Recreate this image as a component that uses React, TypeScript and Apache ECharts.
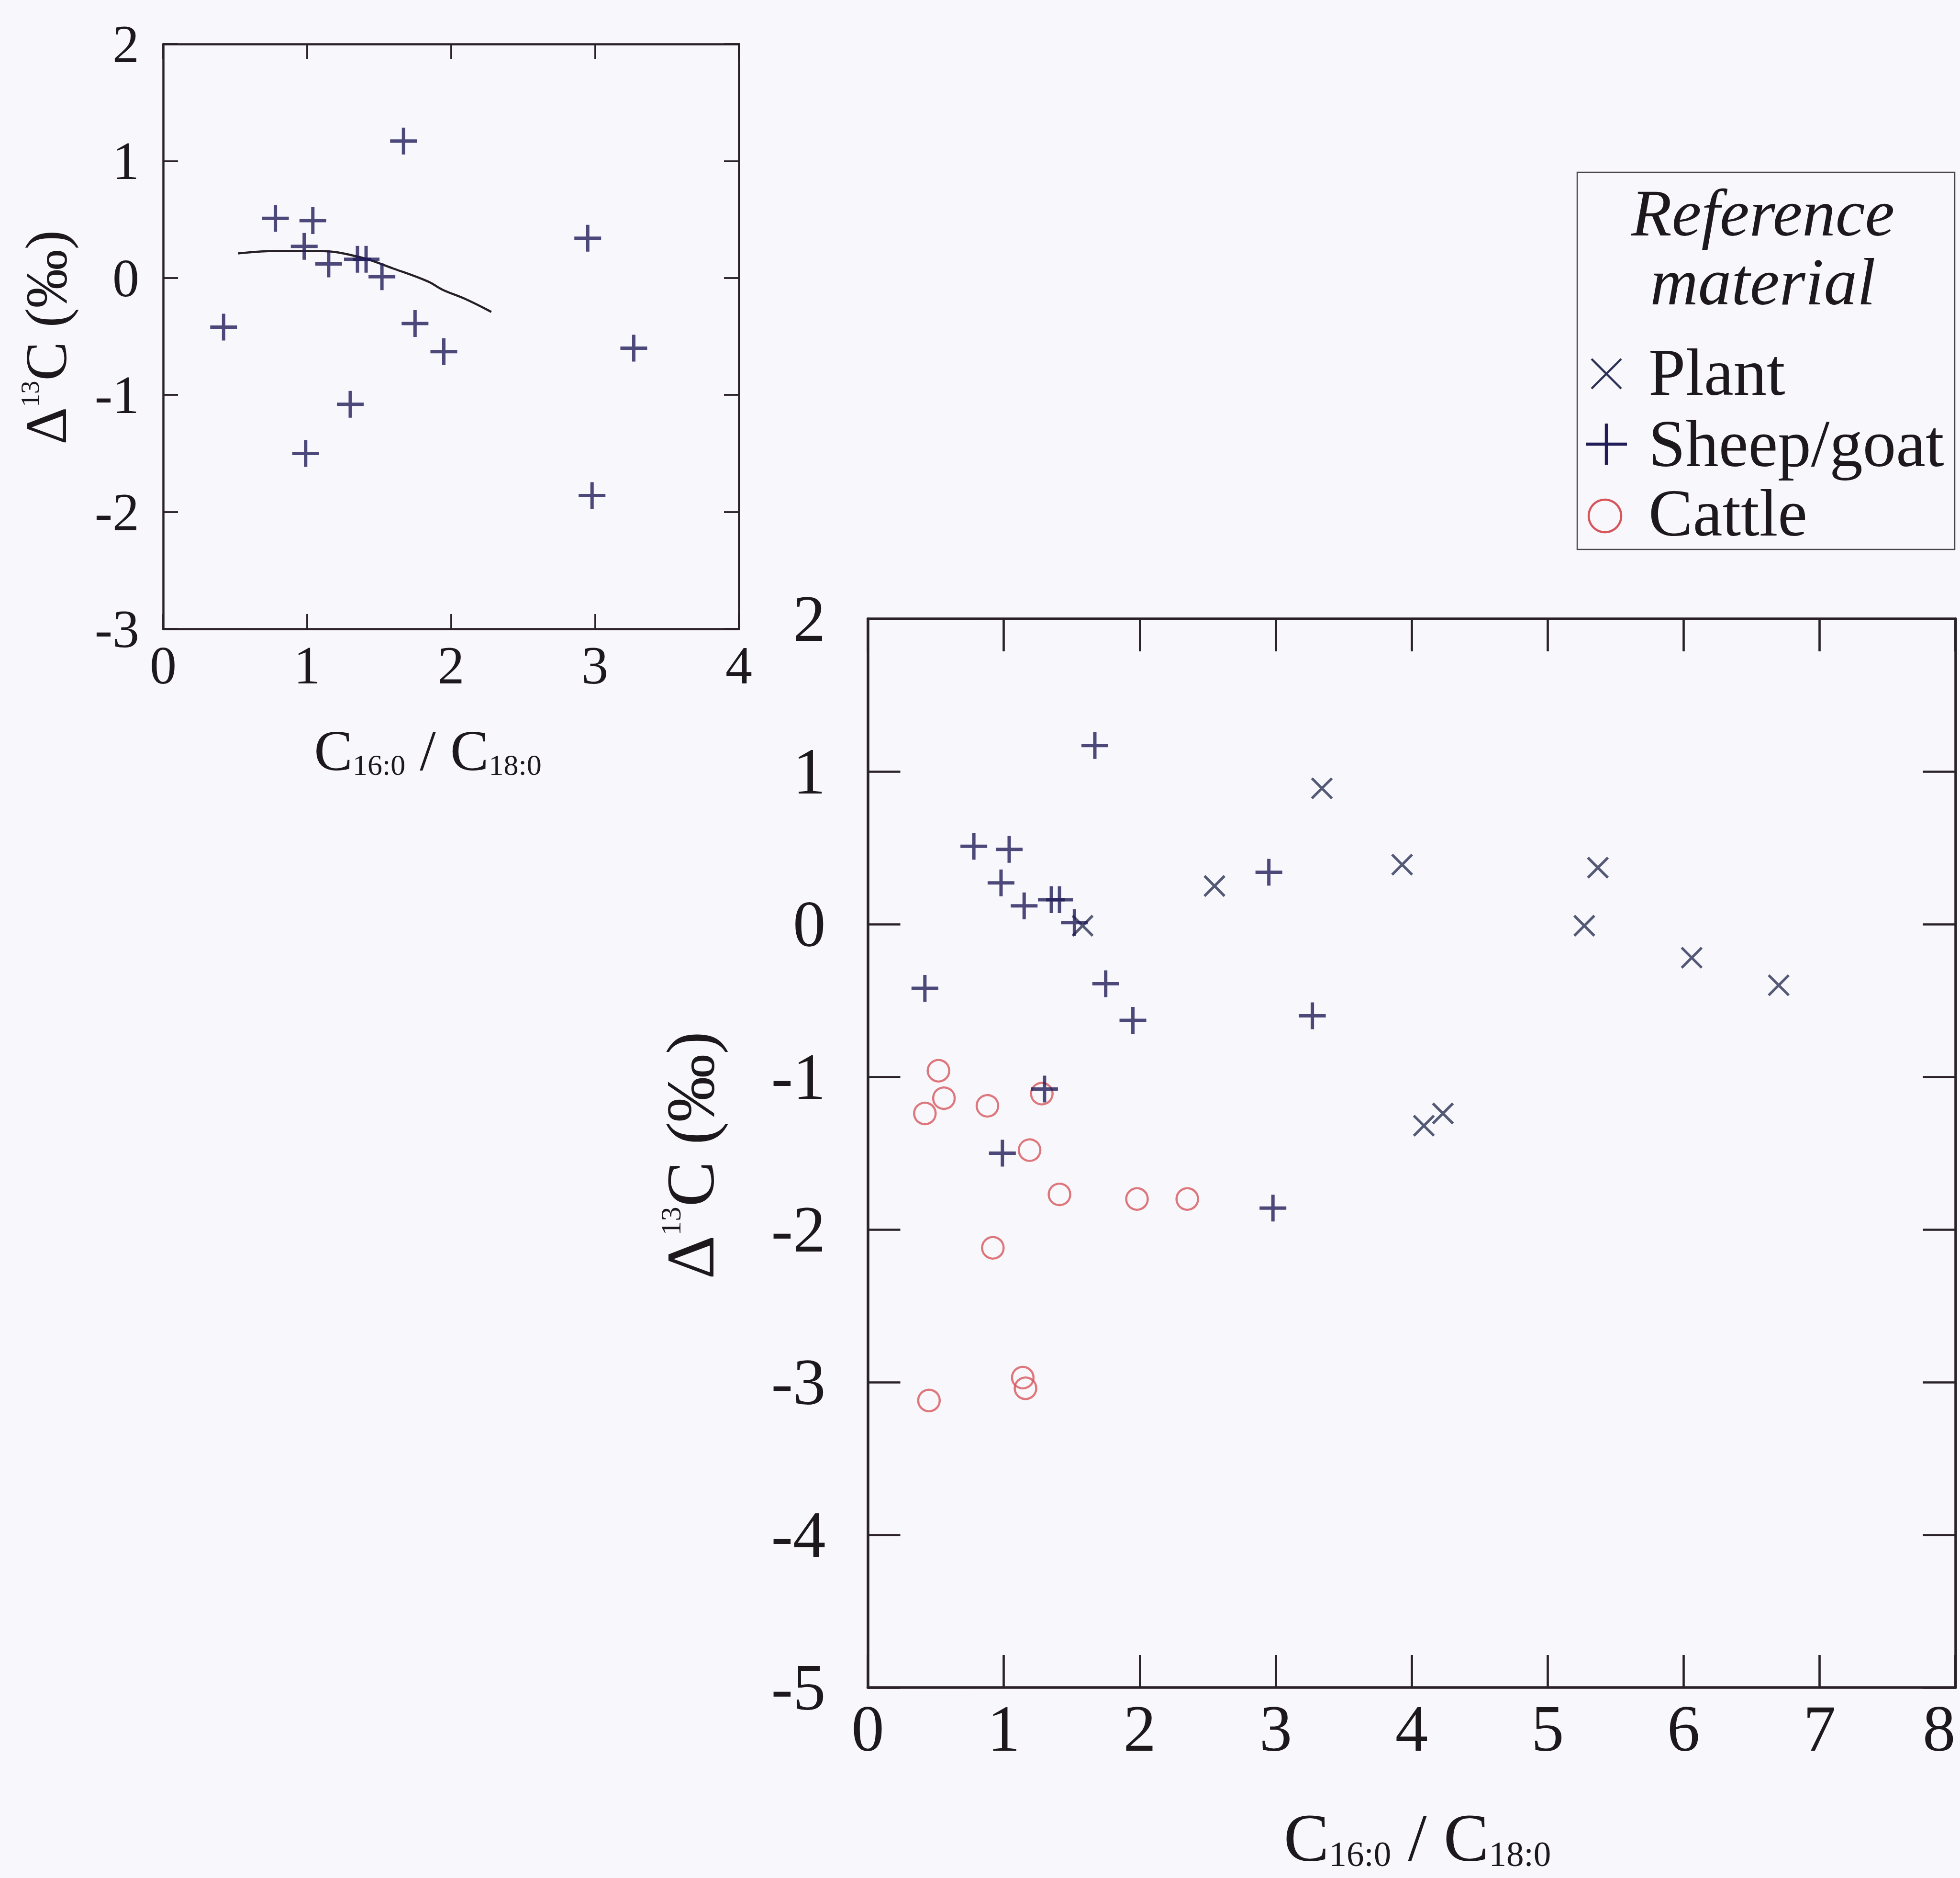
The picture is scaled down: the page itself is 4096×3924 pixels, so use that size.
import React, { useEffect, useRef } from "react";
import * as echarts from "echarts";

// ---------- data ----------
const sheepGoat: [number, number][] = [
  [1.67, 1.17],
  [0.78, 0.51],
  [1.04, 0.49],
  [0.98, 0.27],
  [1.15, 0.12],
  [1.35, 0.16],
  [1.41, 0.16],
  [1.52, 0.01],
  [1.75, -0.39],
  [1.95, -0.63],
  [0.42, -0.42],
  [1.3, -1.08],
  [0.99, -1.5],
  [2.95, 0.34],
  [3.27, -0.6],
  [2.98, -1.86],
];

const plant: [number, number][] = [
  [1.58, -0.01],
  [2.55, 0.25],
  [3.34, 0.89],
  [3.93, 0.39],
  [4.09, -1.32],
  [4.23, -1.24],
  [5.27, -0.01],
  [5.37, 0.37],
  [6.06, -0.22],
  [6.7, -0.4],
];

const cattle: [number, number][] = [
  [0.52, -0.96],
  [0.56, -1.14],
  [0.42, -1.24],
  [0.88, -1.19],
  [1.28, -1.11],
  [1.19, -1.48],
  [1.41, -1.77],
  [1.98, -1.8],
  [2.35, -1.8],
  [0.92, -2.12],
  [1.14, -2.97],
  [1.16, -3.04],
  [0.45, -3.12],
];

const mixingCurve: [number, number][] = [
  [0.52, 0.21],
  [0.78, 0.23],
  [1.08, 0.23],
  [1.36, 0.18],
  [1.6, 0.08],
  [1.84, -0.03],
  [1.94, -0.1],
  [2.1, -0.18],
  [2.28, -0.29],
];

const insetXRange = [0, 4];
const insetYRange = [-3, 2];
const mainXRange = [0, 8];
const mainYRange = [-5, 2];

const legendTitle = ["Reference", "material"];
const legendItems = ["Plant", "Sheep/goat", "Cattle"];

// ---------- styles ----------
const FONT = '"Liberation Serif", "Times New Roman", "DejaVu Serif", serif';
const AXIS_COLOR = "#2a2228";
const TEXT_COLOR = "#1d181c";
const SHEEP_COLOR = "#211c58";
const PLANT_COLOR = "#2b3154";
const CATTLE_COLOR = "#d6565b";
const CURVE_COLOR = "#262026";

const PLUS = "path://M5,0L5,10M0,5L10,5";
const CROSS = "path://M0,0L10,10M0,10L10,0";

function makeAxis(
  grid: number,
  position: string,
  range: number[],
  showLabel: boolean,
  tickLen: number,
  lineW: number,
  fontSize: number,
  margin: number,
  extraLabel: any = {}
) {
  return {
    type: "value",
    gridIndex: grid,
    position,
    min: range[0],
    max: range[1],
    interval: 1,
    axisLine: { show: true, onZero: false, lineStyle: { color: AXIS_COLOR, width: lineW } },
    axisTick: { show: true, inside: true, length: tickLen, lineStyle: { color: AXIS_COLOR, width: lineW * 0.85 } },
    axisLabel: {
      show: showLabel,
      margin,
      fontSize,
      fontFamily: FONT,
      color: TEXT_COLOR,
      ...extraLabel,
    },
    splitLine: { show: false },
  };
}

function xTitle(x: number, y: number, F: number, f: number, subH: number, gap: number) {
  return {
    type: "text",
    x,
    y,
    style: {
      text: "{m|C}{s|16:0}{g|/}{m|C}{s|18:0}",
      align: "center",
      verticalAlign: "middle",
      fill: TEXT_COLOR,
      rich: {
        m: { fontSize: F, fontFamily: FONT, lineHeight: F, fill: TEXT_COLOR },
        s: { fontSize: f, fontFamily: FONT, lineHeight: subH, verticalAlign: "bottom", fill: TEXT_COLOR },
        g: { fontSize: F, fontFamily: FONT, lineHeight: F, fill: TEXT_COLOR, padding: [0, gap, 0, gap] },
      },
    },
  };
}

function yTitle(x: number, y: number, F: number, f: number, supH: number, gap: number) {
  return {
    type: "text",
    x,
    y,
    rotation: Math.PI / 2,
    style: {
      text: "{m|\u0394}{p|13}{m|C}{g|(\u2030)}",
      align: "center",
      verticalAlign: "middle",
      fill: TEXT_COLOR,
      rich: {
        m: { fontSize: F, fontFamily: FONT, lineHeight: F, fill: TEXT_COLOR },
        p: { fontSize: f, fontFamily: FONT, lineHeight: supH, verticalAlign: "top", fill: TEXT_COLOR },
        g: { fontSize: F, fontFamily: FONT, lineHeight: F, fill: TEXT_COLOR, padding: [0, 0, 0, gap] },
      },
    },
  };
}

export default function App() {
  const ref = useRef<HTMLDivElement>(null);

  useEffect(() => {
    if (!ref.current) return;
    const chart = echarts.init(ref.current, null, { renderer: "svg" });

    const LEG_F = 139;
    const legendGraphic: any[] = [
      {
        type: "rect",
        shape: { x: 3296, y: 360, width: 789, height: 788 },
        style: { fill: "none", stroke: "#4a4548", lineWidth: 2.5 },
      },
      {
        type: "text",
        x: 3684,
        y: 445,
        style: { text: legendTitle[0], font: `italic ${LEG_F}px ${FONT}`, fill: TEXT_COLOR, align: "center", verticalAlign: "middle" },
      },
      {
        type: "text",
        x: 3684,
        y: 589,
        style: { text: legendTitle[1], font: `italic ${LEG_F}px ${FONT}`, fill: TEXT_COLOR, align: "center", verticalAlign: "middle" },
      },
      {
        type: "text",
        x: 3445,
        y: 778,
        style: { text: legendItems[0], font: `${LEG_F}px ${FONT}`, fill: TEXT_COLOR, align: "left", verticalAlign: "middle" },
      },
      {
        type: "text",
        x: 3445,
        y: 927,
        style: { text: legendItems[1], font: `${LEG_F}px ${FONT}`, fill: TEXT_COLOR, align: "left", verticalAlign: "middle" },
      },
      {
        type: "text",
        x: 3445,
        y: 1072,
        style: { text: legendItems[2], font: `${LEG_F}px ${FONT}`, fill: TEXT_COLOR, align: "left", verticalAlign: "middle" },
      },
      // legend markers
      { type: "line", shape: { x1: 3326, y1: 750, x2: 3388, y2: 812 }, style: { stroke: PLANT_COLOR, lineWidth: 4.5 } },
      { type: "line", shape: { x1: 3326, y1: 812, x2: 3388, y2: 750 }, style: { stroke: PLANT_COLOR, lineWidth: 4.5 } },
      { type: "line", shape: { x1: 3314, y1: 928, x2: 3400, y2: 928 }, style: { stroke: SHEEP_COLOR, lineWidth: 6.5 } },
      { type: "line", shape: { x1: 3357, y1: 885, x2: 3357, y2: 971 }, style: { stroke: SHEEP_COLOR, lineWidth: 6.5 } },
      { type: "circle", shape: { cx: 3354, cy: 1078, r: 34 }, style: { fill: "none", stroke: CATTLE_COLOR, lineWidth: 4.5 } },
    ];

    const option: any = {
      animation: false,
      backgroundColor: "#f8f7fc",
      textStyle: { fontFamily: FONT },
      grid: [
        { left: 341, top: 92, width: 1203, height: 1222, containLabel: false },
        { left: 1813.5, top: 1293, width: 2273, height: 2233, containLabel: false },
      ],
      xAxis: [
        makeAxis(0, "bottom", insetXRange, true, 31, 4.5, 112, 20),
        makeAxis(0, "top", insetXRange, false, 31, 4.5, 112, 20),
        makeAxis(1, "bottom", mainXRange, true, 68, 5.5, 137, 17, { alignMaxLabel: "right" }),
        makeAxis(1, "top", mainXRange, false, 68, 5.5, 137, 17),
      ],
      yAxis: [
        makeAxis(0, "left", insetYRange, true, 31, 4.5, 112, 50),
        makeAxis(0, "right", insetYRange, false, 31, 4.5, 112, 50),
        makeAxis(1, "left", mainYRange, true, 68, 5.5, 137, 88),
        makeAxis(1, "right", mainYRange, false, 68, 5.5, 137, 88),
      ],
      series: [
        {
          type: "line",
          name: "Curve",
          xAxisIndex: 0,
          yAxisIndex: 0,
          data: mixingCurve,
          smooth: 0.4,
          showSymbol: false,
          symbol: "none",
          lineStyle: { color: CURVE_COLOR, width: 4.5 },
          z: 2,
        },
        {
          type: "scatter",
          name: "Sheep/goat (inset)",
          xAxisIndex: 0,
          yAxisIndex: 0,
          data: sheepGoat,
          symbol: PLUS,
          symbolSize: 56,
          itemStyle: { color: "transparent", borderColor: SHEEP_COLOR, borderWidth: 7 },
          z: 3,
        },
        {
          type: "scatter",
          name: "Cattle",
          xAxisIndex: 2,
          yAxisIndex: 2,
          data: cattle,
          symbol: "circle",
          symbolSize: 45,
          itemStyle: { color: "transparent", borderColor: CATTLE_COLOR, borderWidth: 4.5 },
          z: 2,
        },
        {
          type: "scatter",
          name: "Plant",
          xAxisIndex: 2,
          yAxisIndex: 2,
          data: plant,
          symbol: CROSS,
          symbolSize: 42,
          itemStyle: { color: "transparent", borderColor: PLANT_COLOR, borderWidth: 5.5 },
          z: 3,
        },
        {
          type: "scatter",
          name: "Sheep/goat",
          xAxisIndex: 2,
          yAxisIndex: 2,
          data: sheepGoat,
          symbol: PLUS,
          symbolSize: 56,
          itemStyle: { color: "transparent", borderColor: SHEEP_COLOR, borderWidth: 7 },
          z: 4,
        },
      ],
      graphic: [
        xTitle(894, 1568, 121, 62, 31, 30),
        yTitle(96, 705, 122, 55, 30, 30),
        xTitle(2962, 3840, 142, 73, 37, 35),
        yTitle(1443, 2414, 142, 60, 37, 35),
        ...legendGraphic,
      ],
    };

    chart.setOption(option);
    return () => chart.dispose();
  }, []);

  return (
    <div
      ref={ref}
      style={{ position: "absolute", left: 0, top: 0, width: 4096, height: 3924 }}
    />
  );
}
